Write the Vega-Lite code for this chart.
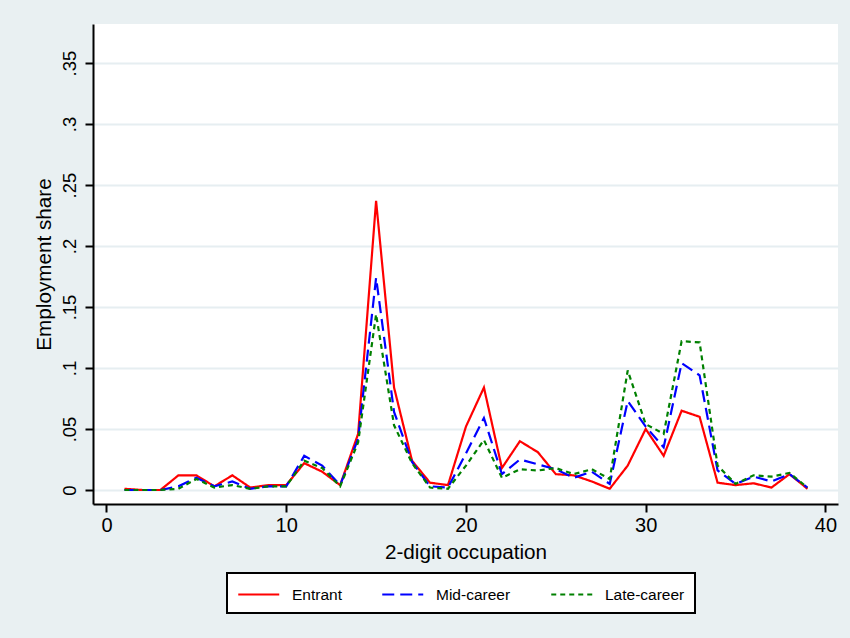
{
  "$schema": "https://vega.github.io/schema/vega-lite/v6.json",
  "width": 745,
  "height": 480,
  "autosize": {"type": "none"},
  "padding": {"left": 93, "top": 24, "right": 12, "bottom": 134},
  "background": "#e9f0f2",
  "config": {
    "view": {"fill": "white", "stroke": null},
    "font": "Liberation Sans",
    "axis": {
      "domainColor": "black",
      "domainWidth": 2,
      "tickColor": "black",
      "tickWidth": 2,
      "tickSize": 8,
      "labelColor": "black",
      "labelFont": "Liberation Sans",
      "titleFont": "Liberation Sans",
      "titleFontSize": 20.7,
      "titleFontWeight": "normal",
      "titleColor": "black"
    }
  },
  "data": {
    "values": [
      {"occ": 1, "series": "Entrant", "share": 0.001},
      {"occ": 2, "series": "Entrant", "share": 0.000},
      {"occ": 3, "series": "Entrant", "share": 0.000},
      {"occ": 4, "series": "Entrant", "share": 0.012},
      {"occ": 5, "series": "Entrant", "share": 0.012},
      {"occ": 6, "series": "Entrant", "share": 0.003},
      {"occ": 7, "series": "Entrant", "share": 0.012},
      {"occ": 8, "series": "Entrant", "share": 0.002},
      {"occ": 9, "series": "Entrant", "share": 0.004},
      {"occ": 10, "series": "Entrant", "share": 0.004},
      {"occ": 11, "series": "Entrant", "share": 0.022},
      {"occ": 12, "series": "Entrant", "share": 0.015},
      {"occ": 13, "series": "Entrant", "share": 0.004},
      {"occ": 14, "series": "Entrant", "share": 0.046},
      {"occ": 15, "series": "Entrant", "share": 0.237},
      {"occ": 16, "series": "Entrant", "share": 0.084},
      {"occ": 17, "series": "Entrant", "share": 0.024},
      {"occ": 18, "series": "Entrant", "share": 0.006},
      {"occ": 19, "series": "Entrant", "share": 0.004},
      {"occ": 20, "series": "Entrant", "share": 0.052},
      {"occ": 21, "series": "Entrant", "share": 0.084},
      {"occ": 22, "series": "Entrant", "share": 0.018},
      {"occ": 23, "series": "Entrant", "share": 0.040},
      {"occ": 24, "series": "Entrant", "share": 0.031},
      {"occ": 25, "series": "Entrant", "share": 0.013},
      {"occ": 26, "series": "Entrant", "share": 0.012},
      {"occ": 27, "series": "Entrant", "share": 0.007},
      {"occ": 28, "series": "Entrant", "share": 0.001},
      {"occ": 29, "series": "Entrant", "share": 0.020},
      {"occ": 30, "series": "Entrant", "share": 0.050},
      {"occ": 31, "series": "Entrant", "share": 0.028},
      {"occ": 32, "series": "Entrant", "share": 0.065},
      {"occ": 33, "series": "Entrant", "share": 0.060},
      {"occ": 34, "series": "Entrant", "share": 0.006},
      {"occ": 35, "series": "Entrant", "share": 0.004},
      {"occ": 36, "series": "Entrant", "share": 0.0055},
      {"occ": 37, "series": "Entrant", "share": 0.002},
      {"occ": 38, "series": "Entrant", "share": 0.013},
      {"occ": 39, "series": "Entrant", "share": 0.001},
      {"occ": 1, "series": "Mid-career", "share": 0.000},
      {"occ": 2, "series": "Mid-career", "share": 0.000},
      {"occ": 3, "series": "Mid-career", "share": 0.000},
      {"occ": 4, "series": "Mid-career", "share": 0.003},
      {"occ": 5, "series": "Mid-career", "share": 0.010},
      {"occ": 6, "series": "Mid-career", "share": 0.003},
      {"occ": 7, "series": "Mid-career", "share": 0.007},
      {"occ": 8, "series": "Mid-career", "share": 0.001},
      {"occ": 9, "series": "Mid-career", "share": 0.003},
      {"occ": 10, "series": "Mid-career", "share": 0.003},
      {"occ": 11, "series": "Mid-career", "share": 0.028},
      {"occ": 12, "series": "Mid-career", "share": 0.020},
      {"occ": 13, "series": "Mid-career", "share": 0.004},
      {"occ": 14, "series": "Mid-career", "share": 0.042},
      {"occ": 15, "series": "Mid-career", "share": 0.174},
      {"occ": 16, "series": "Mid-career", "share": 0.064},
      {"occ": 17, "series": "Mid-career", "share": 0.023},
      {"occ": 18, "series": "Mid-career", "share": 0.003},
      {"occ": 19, "series": "Mid-career", "share": 0.002},
      {"occ": 20, "series": "Mid-career", "share": 0.030},
      {"occ": 21, "series": "Mid-career", "share": 0.059},
      {"occ": 22, "series": "Mid-career", "share": 0.013},
      {"occ": 23, "series": "Mid-career", "share": 0.025},
      {"occ": 24, "series": "Mid-career", "share": 0.021},
      {"occ": 25, "series": "Mid-career", "share": 0.017},
      {"occ": 26, "series": "Mid-career", "share": 0.010},
      {"occ": 27, "series": "Mid-career", "share": 0.015},
      {"occ": 28, "series": "Mid-career", "share": 0.005},
      {"occ": 29, "series": "Mid-career", "share": 0.073},
      {"occ": 30, "series": "Mid-career", "share": 0.052},
      {"occ": 31, "series": "Mid-career", "share": 0.035},
      {"occ": 32, "series": "Mid-career", "share": 0.104},
      {"occ": 33, "series": "Mid-career", "share": 0.094},
      {"occ": 34, "series": "Mid-career", "share": 0.016},
      {"occ": 35, "series": "Mid-career", "share": 0.005},
      {"occ": 36, "series": "Mid-career", "share": 0.011},
      {"occ": 37, "series": "Mid-career", "share": 0.007},
      {"occ": 38, "series": "Mid-career", "share": 0.013},
      {"occ": 39, "series": "Mid-career", "share": 0.002},
      {"occ": 1, "series": "Late-career", "share": 0.000},
      {"occ": 2, "series": "Late-career", "share": 0.000},
      {"occ": 3, "series": "Late-career", "share": 0.000},
      {"occ": 4, "series": "Late-career", "share": 0.001},
      {"occ": 5, "series": "Late-career", "share": 0.009},
      {"occ": 6, "series": "Late-career", "share": 0.002},
      {"occ": 7, "series": "Late-career", "share": 0.004},
      {"occ": 8, "series": "Late-career", "share": 0.001},
      {"occ": 9, "series": "Late-career", "share": 0.003},
      {"occ": 10, "series": "Late-career", "share": 0.003},
      {"occ": 11, "series": "Late-career", "share": 0.024},
      {"occ": 12, "series": "Late-career", "share": 0.018},
      {"occ": 13, "series": "Late-career", "share": 0.003},
      {"occ": 14, "series": "Late-career", "share": 0.039},
      {"occ": 15, "series": "Late-career", "share": 0.144},
      {"occ": 16, "series": "Late-career", "share": 0.053},
      {"occ": 17, "series": "Late-career", "share": 0.022},
      {"occ": 18, "series": "Late-career", "share": 0.002},
      {"occ": 19, "series": "Late-career", "share": 0.001},
      {"occ": 20, "series": "Late-career", "share": 0.020},
      {"occ": 21, "series": "Late-career", "share": 0.041},
      {"occ": 22, "series": "Late-career", "share": 0.010},
      {"occ": 23, "series": "Late-career", "share": 0.017},
      {"occ": 24, "series": "Late-career", "share": 0.016},
      {"occ": 25, "series": "Late-career", "share": 0.018},
      {"occ": 26, "series": "Late-career", "share": 0.013},
      {"occ": 27, "series": "Late-career", "share": 0.017},
      {"occ": 28, "series": "Late-career", "share": 0.009},
      {"occ": 29, "series": "Late-career", "share": 0.098},
      {"occ": 30, "series": "Late-career", "share": 0.054},
      {"occ": 31, "series": "Late-career", "share": 0.046},
      {"occ": 32, "series": "Late-career", "share": 0.122},
      {"occ": 33, "series": "Late-career", "share": 0.121},
      {"occ": 34, "series": "Late-career", "share": 0.020},
      {"occ": 35, "series": "Late-career", "share": 0.005},
      {"occ": 36, "series": "Late-career", "share": 0.012},
      {"occ": 37, "series": "Late-career", "share": 0.011},
      {"occ": 38, "series": "Late-career", "share": 0.014},
      {"occ": 39, "series": "Late-career", "share": 0.002}
    ]
  },
  "mark": {"type": "line", "strokeWidth": 2.2, "clip": true},
  "encoding": {
    "x": {
      "field": "occ",
      "type": "quantitative",
      "scale": {"domain": [-0.751, 40.7], "nice": false, "zero": false},
      "axis": {
        "values": [0, 10, 20, 30, 40],
        "title": "2-digit occupation",
        "grid": false,
        "labelFlush": false,
        "labelFontSize": 20,
        "labelPadding": 3,
        "titleBaseline": "middle",
        "titleY": 48
      }
    },
    "y": {
      "field": "share",
      "type": "quantitative",
      "scale": {"domain": [-0.01148, 0.382], "nice": false, "zero": false},
      "axis": {
        "values": [0, 0.05, 0.1, 0.15, 0.2, 0.25, 0.3, 0.35],
        "labelExpr": "datum.value == 0 ? '0' : slice(format(datum.value, '.2~f'), 1)",
        "title": "Employment share",
        "grid": true,
        "gridColor": "#e6eef1",
        "gridWidth": 2,
        "labelFontSize": 18.5,
        "labelAngle": -90,
        "labelAlign": "center",
        "labelBaseline": "bottom",
        "labelPadding": 6,
        "titleAngle": -90,
        "titleBaseline": "middle",
        "titleAlign": "center",
        "titleX": -49,
        "titleY": 240
      }
    },
    "color": {
      "field": "series",
      "type": "nominal",
      "sort": ["Entrant", "Mid-career", "Late-career"],
      "scale": {"domain": ["Entrant", "Mid-career", "Late-career"], "range": ["#ff0000", "#0000ff", "#008000"]},
      "legend": {
        "title": null,
        "orient": "none",
        "legendX": 134,
        "legendY": 549,
        "direction": "horizontal",
        "fillColor": "white",
        "strokeColor": "black",
        "padding": 10,
        "symbolType": "M-1,0H3",
        "symbolSize": 420,
        "symbolStrokeWidth": 2.2,
        "labelFontSize": 15.5,
        "labelColor": "black",
        "labelFont": "Liberation Sans",
        "labelOffset": 32,
        "columnPadding": 35,
        "encode": {"legend": {"update": {"strokeWidth": {"value": 2}}}}
      }
    },
    "strokeDash": {
      "field": "series",
      "type": "nominal",
      "sort": ["Entrant", "Mid-career", "Late-career"],
      "scale": {"domain": ["Entrant", "Mid-career", "Late-career"], "range": [[1, 0], [12, 6], [5, 4]]},
      "legend": {
        "title": null,
        "orient": "none",
        "legendX": 134,
        "legendY": 549,
        "direction": "horizontal",
        "fillColor": "white",
        "strokeColor": "black",
        "padding": 10,
        "symbolType": "M-1,0H3",
        "symbolSize": 420,
        "symbolStrokeWidth": 2.2,
        "labelFontSize": 15.5,
        "labelColor": "black",
        "labelFont": "Liberation Sans",
        "labelOffset": 32,
        "columnPadding": 35,
        "encode": {"legend": {"update": {"strokeWidth": {"value": 2}}}}
      }
    }
  }
}
